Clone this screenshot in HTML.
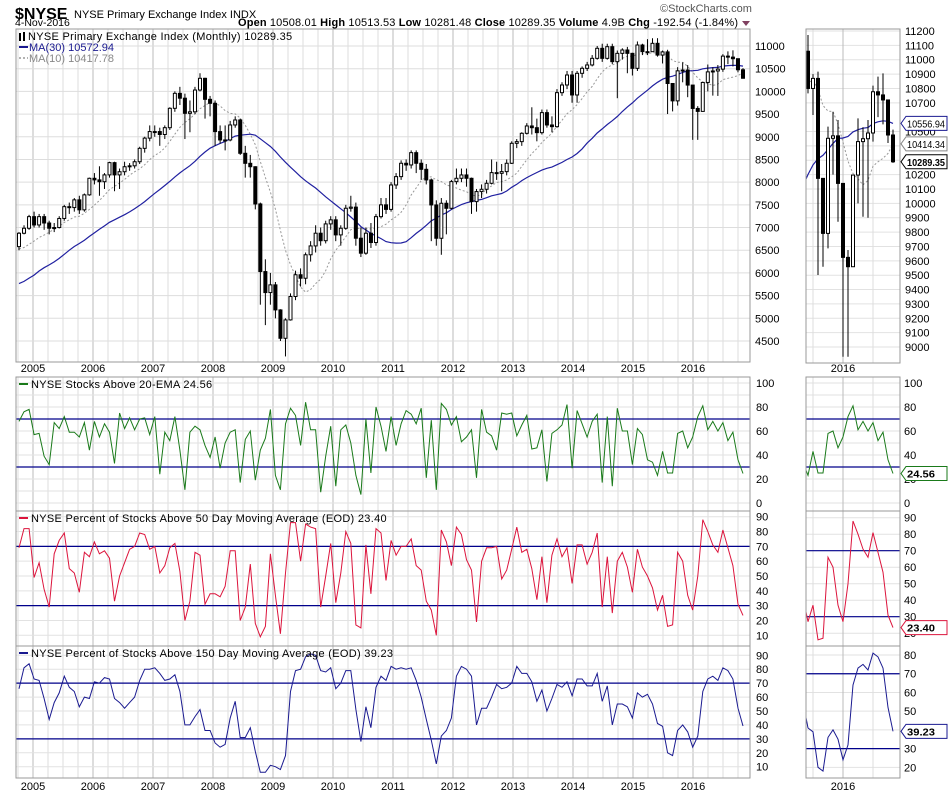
<!DOCTYPE html>
<html><head><meta charset="utf-8"><style>
body{margin:0;background:#fff}
svg{display:block;font-family:"Liberation Sans",sans-serif}
</style></head><body>
<svg id="c" width="950" height="795" viewBox="0 0 950 795" xmlns="http://www.w3.org/2000/svg">
<defs>
<clipPath id="cpMain"><rect x="16" y="29" width="734" height="333"/></clipPath>
<clipPath id="cp2"><rect x="16" y="377" width="734" height="134"/></clipPath>
<clipPath id="cp3"><rect x="16" y="511" width="734" height="135"/></clipPath>
<clipPath id="cp4"><rect x="16" y="646" width="734" height="132"/></clipPath>
<clipPath id="cpMini"><rect x="806" y="29" width="94" height="334"/></clipPath>
<clipPath id="cpMini2"><rect x="806" y="377" width="94" height="134"/></clipPath>
<clipPath id="cpMini3"><rect x="806" y="511" width="94" height="135"/></clipPath>
<clipPath id="cpMini4"><rect x="806" y="646" width="94" height="132"/></clipPath>
</defs>
<g id="grid"></g>
<text x="15" y="19" font-size="16" font-weight="bold">$NYSE</text>
<text x="74" y="18" font-size="11">NYSE Primary Exchange Index  INDX</text>
<text x="15" y="26" font-size="10.5">4-Nov-2016</text>
<text x="660" y="12" font-size="11" fill="#555">©StockCharts.com</text>
<text x="238" y="26" font-size="11" textLength="500" lengthAdjust="spacing"><tspan font-weight="bold">Open</tspan> 10508.01 <tspan font-weight="bold">High</tspan> 10513.53 <tspan font-weight="bold">Low</tspan> 10281.48 <tspan font-weight="bold">Close</tspan> 10289.35 <tspan font-weight="bold">Volume</tspan> 4.9B <tspan font-weight="bold">Chg</tspan> -192.54 (-1.84%)</text>
<path d="M742 21 L750 21 L746 26 Z" fill="#804060"/>
<g id="marks"></g>
<rect x="16" y="29" width="734" height="333" fill="none" stroke="#999"/>
<rect x="16" y="377" width="734" height="134" fill="none" stroke="#999"/>
<rect x="16" y="511" width="734" height="135" fill="none" stroke="#999"/>
<rect x="16" y="646" width="734" height="132" fill="none" stroke="#999"/>
<rect x="806" y="29" width="94" height="334" fill="none" stroke="#999"/>
<rect x="806" y="377" width="94" height="134" fill="none" stroke="#999"/>
<rect x="806" y="511" width="94" height="135" fill="none" stroke="#999"/>
<rect x="806" y="646" width="94" height="132" fill="none" stroke="#999"/>
<g>
<rect x="19" y="33" width="2" height="8" fill="#000"/><rect x="23" y="32" width="2" height="9" fill="#000"/>
<text x="28" y="40" font-size="11" letter-spacing="0.3">NYSE Primary Exchange Index (Monthly) 10289.35</text>
<line x1="19" y1="47" x2="28" y2="47" stroke="#1a1a90" stroke-width="2"/>
<text x="29" y="51" font-size="11" fill="#1a1a90">MA(30) 10572.94</text>
<line x1="19" y1="58" x2="28" y2="58" stroke="#999" stroke-width="1.5" stroke-dasharray="2,2"/>
<text x="29" y="62" font-size="11" fill="#888">MA(10) 10417.78</text>
</g>
<g><line x1="19" y1="384" x2="28" y2="384" stroke="#1a7a1a" stroke-width="2"/><text x="31" y="388" font-size="11" letter-spacing="0.3">NYSE Stocks Above 20-EMA 24.56</text></g>
<g><line x1="19" y1="518" x2="28" y2="518" stroke="#dc143c" stroke-width="2"/><text x="31" y="522" font-size="11" letter-spacing="0.3">NYSE Percent of Stocks Above 50 Day Moving Average (EOD) 23.40</text></g>
<g><line x1="19" y1="653" x2="28" y2="653" stroke="#1a1a90" stroke-width="2"/><text x="31" y="657" font-size="11" letter-spacing="0.3">NYSE Percent of Stocks Above 150 Day Moving Average (EOD) 39.23</text></g>
<g id="labels"></g>
</svg>
<script>
const priorCloses=[5500,5050,5100,4550,4900,5150,5000,4850,4750,4750,5150,5450,5500,5600,5700,5650,5950,6050,6450,6550,6650,6550,6350,6450,6550,6350,6400,6500,6600];
const closes=[6874,6984,7240,7057,7240,7100,6985,7000,7200,7460,7440,7610,7390,7720,8085,8050,8010,8160,8430,8160,8230,8340,8360,8450,8745,8970,9115,9115,9050,9200,9627,9957,9850,9517,9550,10030,10288,9825,9737,9114,8930,8930,9260,9370,8636,8415,8340,7520,6030,5567,5737,5185,4560,4965,5480,5960,5883,6400,6595,6875,6710,7080,7170,6838,6984,7425,7450,6765,6435,6875,6670,7240,7500,7400,7938,8122,8416,8379,8650,8416,8283,8049,7498,6764,7535,7424,8012,8085,8159,8085,7571,7792,7843,7975,8210,8195,8232,8416,8856,8893,9076,9238,9200,9091,9532,9260,9223,9972,10141,10361,9921,10398,10508,10582,10728,10949,10728,10985,10655,10838,10912,10838,10508,11022,10875,10875,11059,10800,10870,10174,9791,10453,10470,10139,9624,9559,10197,10430,10450,10490,10777,10755,10720,10476,10289.35];
const highs=[6900,7050,7280,7350,7300,7300,7150,7100,7250,7500,7550,7650,7700,7750,8100,8200,8350,8200,8450,8450,8300,8450,8420,8500,8780,9000,9250,9250,9200,9250,9650,10000,10100,9950,9800,10100,10400,10300,9900,9800,9250,9250,9350,9450,9400,8800,8600,8350,7550,6300,6000,5800,5200,5000,5550,6050,6100,6450,6700,7050,7000,7150,7250,7250,7050,7500,7700,7550,7000,7000,7100,7300,7650,7650,8000,8200,8480,8500,8700,8700,8500,8400,8080,7600,7650,7600,8050,8300,8300,8300,8100,7850,7950,8050,8500,8450,8400,8500,8900,8950,9100,9300,9650,9400,9600,9600,9450,10050,10200,10450,10450,10450,10550,10650,10800,11000,11050,11050,11050,10900,10950,10980,10850,11100,11050,11150,11170,11172,10900,10917,10070,10534,10638,10580,10035,9675,10197,10592,10530,10580,10820,10882,10905,10720,10513.53];
const lows=[6500,6850,6950,7000,7000,6950,6850,6900,6980,7150,7300,7350,7300,7350,7700,7950,7700,7850,8100,7800,7850,8150,8250,8300,8400,8650,8900,9000,8800,8950,9150,9550,9700,8950,9100,9500,10000,9400,9450,8800,8850,8700,8900,9200,8600,8100,8100,7400,5300,4850,5300,5000,4500,4160,4950,5400,5700,5750,6250,6450,6600,6650,6950,6700,6600,6950,7350,6600,6350,6400,6550,6600,7200,7300,7350,7850,8050,8250,8300,8200,8050,7950,6700,6600,6400,6850,7400,7950,8000,7900,7300,7350,7650,7750,7950,8050,7800,8150,8400,8750,8800,9050,9050,8900,9050,9200,9100,9200,9900,10050,9750,9750,10300,10450,10550,10700,10650,10700,10600,9850,10700,10400,10350,10450,10800,10800,10900,10766,10615,9501,9559,9687,10200,9872,8932,8932,9629,10000,9907,9900,10430,10600,10550,10420,10281.48];
const ema20=[68,76,78,57,58,39,32,67,62,72,59,59,55,67,44,68,55,66,59,33,75,62,71,61,70,71,57,72,24,59,52,72,44,11,59,64,61,48,38,55,29,50,59,61,17,53,60,19,44,54,78,23,11,66,79,73,48,84,61,61,9,39,64,14,61,65,50,23,7,70,25,80,64,43,72,48,66,77,74,66,79,21,69,11,83,78,65,72,51,55,61,21,78,59,56,44,75,74,75,56,65,73,45,46,61,18,58,61,65,82,29,77,66,55,68,74,17,72,14,79,60,60,32,62,57,36,34,23,43,25,25,58,60,46,55,72,81,61,68,60,67,52,59,36,24.56];
const ma50pct=[69,82,82,49,59,41,29,65,74,79,55,52,39,66,63,73,65,67,62,33,50,59,68,70,79,78,68,70,52,57,69,72,53,20,33,66,64,31,38,38,36,43,67,67,20,29,58,18,9,16,65,37,11,52,86,86,60,85,83,82,29,50,72,32,52,80,72,17,15,71,38,82,79,47,74,64,70,70,75,57,54,33,27,10,81,73,57,83,78,61,54,19,60,69,69,70,48,54,68,83,66,68,55,34,63,32,64,75,63,69,45,71,71,58,66,79,29,63,25,60,66,56,39,68,56,50,42,27,37,16,17,66,60,37,27,50,88,80,71,66,81,69,57,31,23.4];
const ma150pct=[66,81,84,73,72,59,44,56,63,75,67,64,53,60,59,71,70,74,73,59,56,52,56,60,72,80,80,81,77,72,73,76,64,40,40,46,51,36,36,27,24,26,45,57,31,31,38,21,6,6,11,10,8,18,64,79,80,89,91,90,79,78,81,66,70,79,79,51,28,53,38,67,75,72,82,80,81,80,81,72,60,44,29,12,32,36,45,75,82,80,75,40,52,52,60,69,66,67,70,82,77,77,71,57,65,50,59,69,67,71,61,73,73,68,68,77,57,68,40,55,55,53,45,63,60,62,55,41,39,20,18,36,40,35,24,32,64,73,75,72,81,79,73,52,39.23];
const priceTicks=[4500,5000,5500,6000,6500,7000,7500,8000,8500,9000,9500,10000,10500,11000];
const miniPriceTicks=[9000,9100,9200,9300,9400,9500,9600,9700,9800,9900,10000,10100,10200,10300,10400,10500,10700,10800,10900,11000,11100,11200];
const yearLabels=["2005","2006","2007","2008","2009","2010","2011","2012","2013","2014","2015","2016"];
const ema20Ticks=[0,20,40,60,80,100];
const pctTicks=[10,20,30,40,50,60,70,80,90];
const miniPct3Ticks=[20,30,40,50,60,70,80,90];
const miniPct4Ticks=[20,30,40,50,60,70,80];
const refLines=[30,70];

const NS="http://www.w3.org/2000/svg";
const N=closes.length, MINI0=N-18;
const xM=i=>19+i*(724/(N-1));
const xMini=i=>808+(i-MINI0)*5;
const yP=v=>46+(11000-v)*0.045385;
const yMini=v=>31+(11200-v)*0.14364;
const y2=v=>503-1.2*v;
const y3=v=>516.7+(90-v)*1.4825;
const y4=v=>655.3+(90-v)*1.3925;
const y3m=v=>517.7+(90-v)*1.65;
const y4m=v=>655+(80-v)*1.872;
const yearX=k=>33+60*k;

function mk(tag,attrs,parent){const e=document.createElementNS(NS,tag);for(const k in attrs)e.setAttribute(k,attrs[k]);parent.appendChild(e);return e;}
const grid=document.getElementById('grid'), marks=document.getElementById('marks'), labels=document.getElementById('labels');

for(let gx=18;gx<750;gx+=15){
  const yr=((gx-33)%60===0);
  [[29,362],[377,778]].forEach(r=>{
    const l=mk('line',{x1:gx,x2:gx,y1:r[0],y2:r[1],stroke:yr?'#bbb':'#ddd','stroke-width':1},grid);
    
    
  });
}
yearLabels.forEach((t,k)=>{
  [372,790].forEach(yy=>{
    const e=mk('text',{x:yearX(k),y:yy,'font-size':11,'text-anchor':'middle'},labels);
    e.textContent=t;
    
    
  });
});
priceTicks.forEach(v=>{
  const l=mk('line',{x1:16,x2:750,y1:yP(v),y2:yP(v),stroke:'#ddd'},grid);
  
  
  const t=mk('text',{x:755,y:yP(v)+4,'font-size':11},labels);
  t.textContent=v;
  
  
});
function pctPanel(ticks,yf,x1,x2,lx,step,lo,hi){
  for(let v=lo;v<=hi;v+=step){
    const l=mk('line',{x1:x1,x2:x2,y1:yf(v),y2:yf(v),stroke:'#e2e2e2'},grid);
    
    
  }
  ticks.forEach(v=>{
    const t=mk('text',{x:lx,y:yf(v)+4,'font-size':11},labels);
    t.textContent=v;
    
    
  });
  refLines.forEach(v=>{
    const l=mk('line',{x1:x1,x2:x2,y1:yf(v),y2:yf(v),stroke:'#00008b','stroke-width':1.2},marks);
    
    
  });
}
pctPanel(ema20Ticks,y2,16,750,756,10,0,100);
pctPanel(pctTicks,y3,16,750,756,10,10,90);
pctPanel(pctTicks,y4,16,750,756,10,10,90);
pctPanel(ema20Ticks,y2,806,900,904,10,0,100);
pctPanel(miniPct3Ticks,y3m,806,900,904,10,20,90);
pctPanel(miniPct4Ticks,y4m,806,900,904,10,20,80);
miniPriceTicks.forEach(v=>{
  const l=mk('line',{x1:806,x2:900,y1:yMini(v),y2:yMini(v),stroke:'#e2e2e2'},grid);
  
  
  const t=mk('text',{x:905,y:yMini(v)+4,'font-size':11},labels);
  t.textContent=v;
  
  
});
[813,843,873].forEach(gx=>{
  [[29,363],[377,778]].forEach(r=>{
    const l=mk('line',{x1:gx,x2:gx,y1:r[0],y2:r[1],stroke:gx===843?'#bbb':'#ddd'},grid);
    
    
  });
});
[372,790].forEach(yy=>{
  const e=mk('text',{x:843,y:yy,'font-size':11,'text-anchor':'middle'},labels);
  e.textContent='2016';
  
  
});

const allC=priorCloses.concat(closes);
const P=priorCloses.length;
function ma(n,i){let s=0,c=0;for(let k=P+i-n+1;k<=P+i;k++){if(k>=0){s+=allC[k];c++;}}return s/c;}
function drawLine(vals,xf,yf,clip,attrs,name,from){
  let d='';for(let i=from;i<vals.length;i++){d+=(i===from?'M':'L')+xf(i).toFixed(1)+' '+yf(vals[i]).toFixed(1);}
  const g=mk('g',{'clip-path':'url(#'+clip+')'},marks);
  const p=mk('path',Object.assign({d:d,fill:'none'},attrs),g);
  
  
}
const ma30=closes.map((c,i)=>ma(30,i)), ma10=closes.map((c,i)=>ma(10,i));
drawLine(ma10,xM,yP,'cpMain',{stroke:'#999','stroke-width':1,'stroke-dasharray':'2,2'},'ma10-line',0);
drawLine(ma30,xM,yP,'cpMain',{stroke:'#2020a0','stroke-width':1.2},'ma30-line',0);
drawLine(ma10,xMini,yMini,'cpMini',{stroke:'#999','stroke-width':1,'stroke-dasharray':'2,2'},'mini-ma10-line',MINI0-1);
drawLine(ma30,xMini,yMini,'cpMini',{stroke:'#2020a0','stroke-width':1.2},'mini-ma30-line',MINI0-1);

function candles(xf,yf,clip,from,w,name){
  const g=mk('g',{'clip-path':'url(#'+clip+')'},marks);
  for(let i=from;i<N;i++){
    const o=i===0?6580:closes[i-1], c=closes[i], x=xf(i);
    const w1=mk('line',{x1:x,x2:x,y1:yf(highs[i]),y2:yf(lows[i]),stroke:'#000','stroke-width':1},g);
    
    
    const top=yf(Math.max(o,c)), bot=yf(Math.min(o,c));
    const r=mk('rect',{x:x-1.5,y:top,width:3,height:Math.max(1,bot-top),fill:c>=o?'#fff':'#000',stroke:'#000','stroke-width':1},g);
    
    
  }
}
candles(xM,yP,'cpMain',0,3,'candle');
candles(xMini,yMini,'cpMini',MINI0,3,'mini-candle');

drawLine(ema20,xM,y2,'cp2',{stroke:'#1a7a1a','stroke-width':1},'ema20-line',0);
drawLine(ma50pct,xM,y3,'cp3',{stroke:'#dc143c','stroke-width':1},'ma50-pct-line',0);
drawLine(ma150pct,xM,y4,'cp4',{stroke:'#1a1a90','stroke-width':1},'ma150-pct-line',0);
drawLine(ema20,xMini,y2,'cpMini2',{stroke:'#1a7a1a','stroke-width':1},'mini-ema20-line',MINI0-1);
drawLine(ma50pct,xMini,y3m,'cpMini3',{stroke:'#dc143c','stroke-width':1},'mini-ma50-line',MINI0-1);
drawLine(ma150pct,xMini,y4m,'cpMini4',{stroke:'#1a1a90','stroke-width':1},'mini-ma150-line',MINI0-1);

function tag(v,yy,color,bold,name){
  const g=mk('g',{},labels);
  
  
  mk('path',{d:`M901 ${yy} L906 ${yy-7} L947 ${yy-7} L947 ${yy+7} L906 ${yy+7} Z`,fill:'#fff',stroke:color},g);
  const t=mk('text',{x:907,y:yy+4,'font-size':10.5,'font-weight':bold?'bold':'normal',textLength:v.length>6?38:28,lengthAdjust:'spacingAndGlyphs'},g);
  t.textContent=v;
}
tag(ma30[N-1].toFixed(2),yMini(ma30[N-1]),'#1a1a90',false,'ma30-value-tag');
tag(ma10[N-1].toFixed(2),yMini(ma10[N-1]),'#888',false,'ma10-value-tag');
tag(closes[N-1].toFixed(2),yMini(closes[N-1]),'#000',true,'close-value-tag');
tag(ema20[N-1].toFixed(2),y2(ema20[N-1]),'#1a7a1a',true,'ema20-value-tag');
tag(ma50pct[N-1].toFixed(2),y3m(ma50pct[N-1]),'#dc143c',true,'ma50-value-tag');
tag(ma150pct[N-1].toFixed(2),y4m(ma150pct[N-1]),'#1a1a90',true,'ma150-value-tag');
</script>
</body></html>
